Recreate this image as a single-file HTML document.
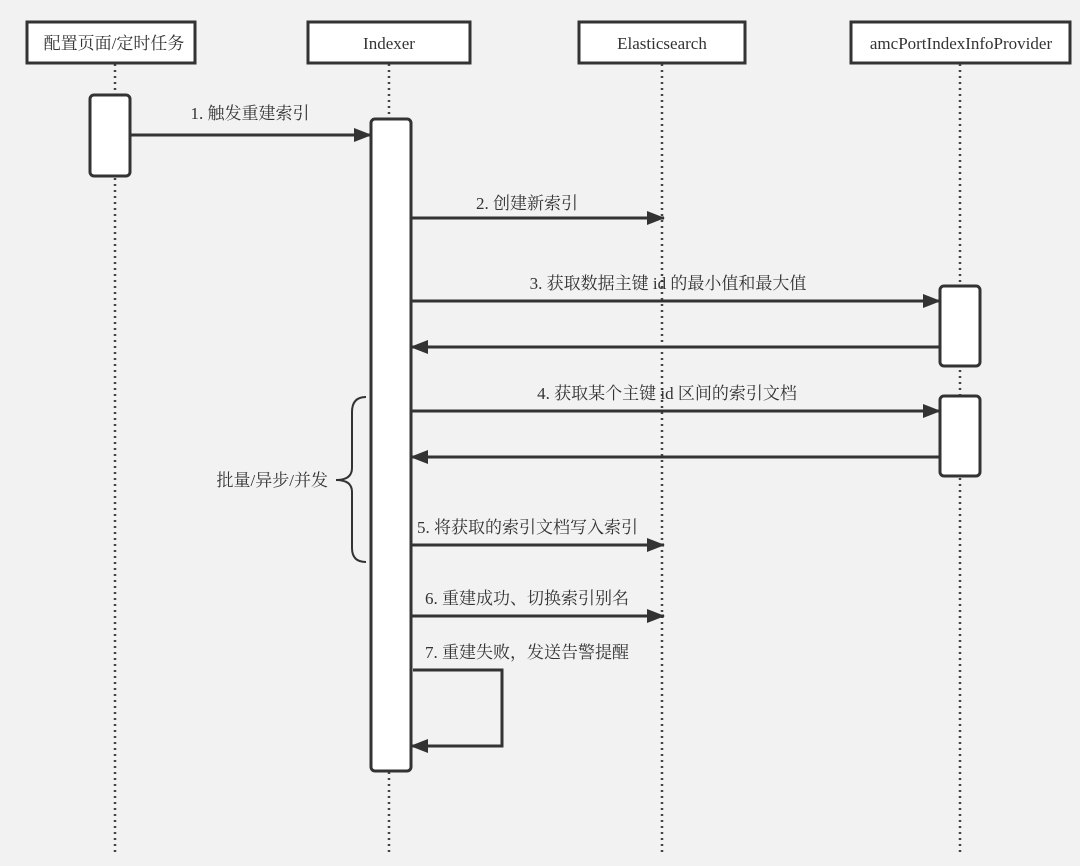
<!DOCTYPE html>
<html><head><meta charset="utf-8"><style>
html,body{margin:0;padding:0;background:#f2f2f2;}
svg{display:block;}
text{font-family:"Liberation Serif","Noto Serif CJK SC",serif;font-size:17px;fill:#333;}
</style></head><body>
<svg width="1080" height="866" viewBox="0 0 1080 866" xmlns="http://www.w3.org/2000/svg">
<defs>
<marker id="ah" markerWidth="18" markerHeight="14" refX="17" refY="7" orient="auto" markerUnits="userSpaceOnUse">
<path d="M0,0 L18,7 L0,14 Z" fill="#333"/>
</marker>
</defs>
<rect width="1080" height="866" fill="#f2f2f2"/>
<g stroke="#444" stroke-width="2.5" stroke-dasharray="2,4" fill="none">
<line x1="115" y1="64" x2="115" y2="855"/>
<line x1="389" y1="64" x2="389" y2="855"/>
<line x1="662" y1="64" x2="662" y2="855"/>
<line x1="960" y1="64" x2="960" y2="855"/>
</g>
<g fill="#fff" stroke="#333" stroke-width="3">
<rect x="27" y="22" width="168" height="41"/>
<rect x="308" y="22" width="162" height="41"/>
<rect x="579" y="22" width="166" height="41"/>
<rect x="851" y="22" width="219" height="41"/>
<rect x="90" y="95" width="40" height="81" rx="4"/>
<rect x="371" y="119" width="40" height="652" rx="4"/>
<rect x="940" y="286" width="40" height="80" rx="4"/>
<rect x="940" y="396" width="40" height="80" rx="4"/>
</g>
<g text-anchor="middle">
<text x="114" y="49">配置页面/定时任务</text>
<text x="389" y="49">Indexer</text>
<text x="662" y="49">Elasticsearch</text>
<text x="961" y="49">amcPortIndexInfoProvider</text>
</g>
<g stroke="#333" stroke-width="3" fill="none">
<line x1="130" y1="135" x2="371" y2="135" marker-end="url(#ah)"/>
<line x1="411" y1="218" x2="664" y2="218" marker-end="url(#ah)"/>
<line x1="411" y1="301" x2="940" y2="301" marker-end="url(#ah)"/>
<line x1="940" y1="347" x2="411" y2="347" marker-end="url(#ah)"/>
<line x1="411" y1="411" x2="940" y2="411" marker-end="url(#ah)"/>
<line x1="940" y1="457" x2="411" y2="457" marker-end="url(#ah)"/>
<line x1="411" y1="545" x2="664" y2="545" marker-end="url(#ah)"/>
<line x1="411" y1="616" x2="664" y2="616" marker-end="url(#ah)"/>
<polyline points="413,670 502,670 502,746 411,746" marker-end="url(#ah)"/>
<path d="M366,397 Q352,397 352,412 L352,468 Q352,480 336,480 Q352,480 352,492 L352,548 Q352,562 366,562" stroke-width="2"/>
</g>
<g text-anchor="middle">
<text x="250" y="119">1. 触发重建索引</text>
<text x="527" y="209">2. 创建新索引</text>
<text x="668" y="289">3. 获取数据主键 id 的最小值和最大值</text>
<text x="667" y="399">4. 获取某个主键 id 区间的索引文档</text>
</g>
<text x="417" y="533">5. 将获取的索引文档写入索引</text>
<text x="425" y="604">6. 重建成功、切换索引别名</text>
<text x="425" y="658">7. 重建失败，发送告警提醒</text>
<text x="328" y="486" text-anchor="end">批量/异步/并发</text>
</svg>
</body></html>
